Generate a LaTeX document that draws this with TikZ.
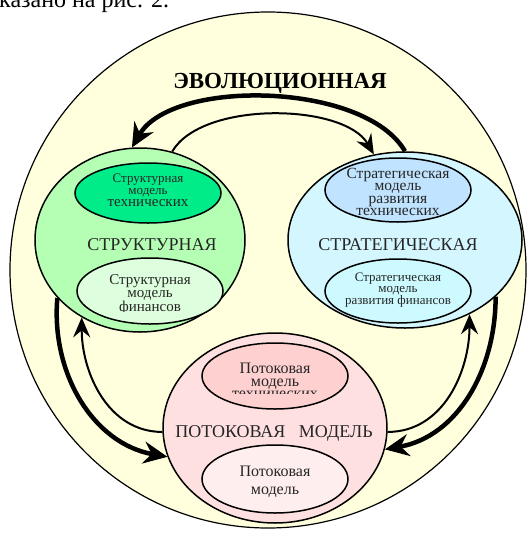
\documentclass[tikz,border=0pt]{standalone}
\usepackage{fontspec}
\setmainfont{Liberation Serif}
\usetikzlibrary{shapes.geometric, arrows.meta, positioning}
\definecolor{giallino}{RGB}{255,255,221}
\definecolor{verde}{RGB}{180,255,180}
\definecolor{verdescuro}{RGB}{0,236,136}
\definecolor{verdechiaro}{RGB}{222,255,222}
\definecolor{azzurro}{RGB}{212,246,255}
\definecolor{azzurroscuro}{RGB}{192,228,255}
\definecolor{azzurrochiaro}{RGB}{204,250,255}
\definecolor{rosa}{RGB}{255,224,224}
\definecolor{rosascuro}{RGB}{255,208,208}
\definecolor{rosachiaro}{RGB}{255,238,238}
\tikzset{
    ell/.style={ellipse, draw, line width=1.5pt, inner sep=0pt},
    piccola/.style={ell, minimum width=146pt, minimum height=66pt},
    freccia/.style={line width=4.5pt, -{Stealth[length=24pt, width=22pt, inset=8pt]}},
    frecciaf/.style={line width=2pt, -{Stealth[length=20pt, width=17pt, inset=7pt]}},
    testo/.style={align=center, inner sep=0pt, text=black!85},
    titolo/.style={anchor=base, inner sep=0pt, text=black!85, font=\fontsize{18}{20}\selectfont}
}

\begin{document}
\begin{tikzpicture}[x=1pt, y=-1pt]
    \useasboundingbox (0,0) rectangle (531,539);
    %testo tagliato in alto
    \node[anchor=base west, inner sep=0pt, font=\fontsize{24}{26}\selectfont] (rif) at (-1,7) {казано на рис. 2.};
    %cerchio esterno
    \node[circle, draw, line width=1.2pt, fill=giallino, minimum size=516pt] (evol) at (268,270) {};
    \node[anchor=base, inner sep=0pt, font=\bfseries\fontsize{23}{26}\selectfont] (tevol) at (280,88) {ЭВОЛЮЦИОННАЯ};
    %ellissi grandi
    \node[ell, fill=verde, minimum width=210pt, minimum height=184pt] (strut) at (140,240) {};
    \node[ell, fill=azzurro, minimum width=234pt, minimum height=176pt] (strat) at (405,240) {};
    \node[ell, fill=rosa, minimum width=224pt, minimum height=190pt] (flusso) at (275,428) {};
    \node[titolo] (tstrut) at (152,250) {СТРУКТУРНАЯ};
    \node[titolo] (tstrat) at (398,250) {СТРАТЕГИЧЕСКАЯ};
    \node[titolo] (tflusso) at (274,437) {ПОТОКОВАЯ\ \ \ МОДЕЛЬ};
    %ellissi piccole
    \node[piccola, fill=verdescuro, minimum height=60pt] (struttec) at (148,193) {};
    \node[testo, font=\fontsize{13}{12}\selectfont] (tstruttec) at (148,190) {Структурная\\модель\\{\fontsize{15}{12}\selectfont технических}};
    \node[piccola, fill=verdechiaro] (strutfin) at (150,291) {};
    \begin{scope}
        \clip (70,250) rectangle (230,311);
        \node[testo, font=\fontsize{15}{12.5}\selectfont] (tstrutfin) at (150,295) {Структурная\\модель\\финансов};
    \end{scope}
    \node[piccola, fill=azzurroscuro, minimum height=64pt] (strattec) at (398,190) {};
    \node[testo, font=\fontsize{15.5}{12.3}\selectfont] (tstrattec) at (398,192) {Стратегическая\\модель\\развития\\технических};
    \node[piccola, fill=azzurrochiaro, minimum height=64pt] (stratfin) at (398,291) {};
    \node[testo, font=\fontsize{13}{11}\selectfont] (tstratfin) at (398,290) {Стратегическая\\модель\\развития финансов};
    \node[piccola, fill=rosascuro] (flussotec) at (275,376) {};
    \begin{scope}
        \clip (200,340) rectangle (350,393);
        \node[testo, font=\fontsize{16}{12.5}\selectfont] (tflussotec) at (275,381) {Потоковая\\модель\\технических};
    \end{scope}
    \node[piccola, fill=rosachiaro, minimum height=68pt] (flussofin) at (275,479) {};
    \node[testo, font=\fontsize{16}{18}\selectfont] (tflussofin) at (275,482) {Потоковая\\модель};
    %frecce
    \draw[freccia] (strat.90) to[out=120, in=60, looseness=0.75] (strut.95);
    \draw[frecciaf] (strut.70) to[out=60, in=120, looseness=0.75] (strat.110);
    \draw[freccia] (strut.215) to[out=265, in=170] (flusso.195);
    \draw[frecciaf] (flusso.182) to[out=180, in=270] (strut.233);
    \draw[freccia] (strat.328) to[out=270, in=10] (flusso.349);
    \draw[frecciaf] (flusso.358) to[out=0, in=270] (strat.311);
\end{tikzpicture}
\end{document}
